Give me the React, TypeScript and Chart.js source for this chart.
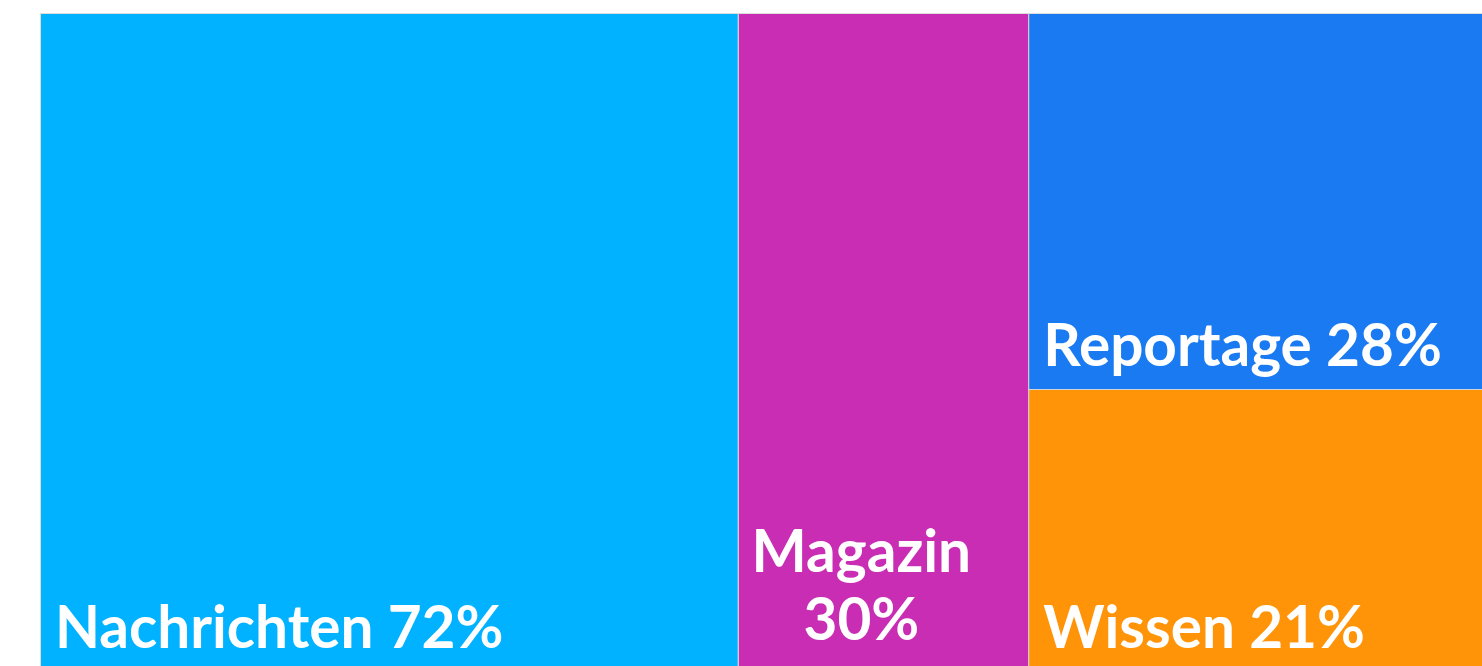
import React, { useEffect, useRef } from "react";
import { Chart, registerables } from "chart.js";

Chart.register(...registerables);

const categories = ["Nachrichten", "Magazin", "Reportage", "Wissen"];
const values = [72, 30, 28, 21];
const columnOf = [0, 1, 2, 2];
const colors = ["#00B2FF", "#C82DB4", "#1A7AF2", "#FF9408"];

const total = values.reduce((a, b) => a + b, 0);

type Rect = { x0: number; x1: number; y0: number; y1: number };

function layout(): Rect[] {
  const nCols = Math.max(...columnOf) + 1;
  const colSums = Array.from({ length: nCols }, (_, c) =>
    values.reduce((s, v, i) => (columnOf[i] === c ? s + v : s), 0)
  );
  const rects: Rect[] = [];
  let xStart = 0;
  const colY: number[] = new Array(nCols).fill(0);
  const colX: number[] = [];
  for (let c = 0; c < nCols; c++) {
    colX.push(xStart);
    xStart += colSums[c];
  }
  values.forEach((v, i) => {
    const c = columnOf[i];
    const y0 = colY[c];
    const y1 = y0 + v / colSums[c];
    colY[c] = y1;
    rects.push({ x0: colX[c], x1: colX[c] + colSums[c], y0, y1 });
  });
  return rects;
}

const treemapPlugin = {
  id: "treemapRects",
  beforeDatasetsDraw(chart: any) {
    const { ctx } = chart;
    const xs = chart.scales.x;
    const ys = chart.scales.y;
    const rects = layout();
    ctx.save();
    rects.forEach((r, i) => {
      const left = xs.getPixelForValue(r.x0);
      const right = xs.getPixelForValue(r.x1);
      const top = ys.getPixelForValue(r.y0);
      const bottom = ys.getPixelForValue(r.y1);
      ctx.fillStyle = colors[i];
      ctx.fillRect(left, top, right - left, bottom - top);
      ctx.strokeStyle = "rgba(215,215,215,0.85)";
      ctx.lineWidth = 1;
      ctx.strokeRect(Math.round(left) - 0.5, Math.round(top) - 0.5, right - left, bottom - top);
    });
    // labels
    ctx.font = "bold 58.5px Lato";
    ctx.fillStyle = "#FFFFFF";
    ctx.textBaseline = "alphabetic";
    const pad = 14;
    rects.forEach((r, i) => {
      const left = xs.getPixelForValue(r.x0);
      const right = xs.getPixelForValue(r.x1);
      const bottom = ys.getPixelForValue(r.y1);
      const text = `${categories[i]} ${values[i]}%`;
      const avail = right - left - 2 * pad;
      let lines: string[] = [text];
      if (ctx.measureText(text).width > avail) {
        lines = [];
        let cur = "";
        text.split(" ").forEach((w) => {
          const t = cur ? cur + " " + w : w;
          if (cur && ctx.measureText(t).width > avail) {
            lines.push(cur);
            cur = w;
          } else cur = t;
        });
        if (cur) lines.push(cur);
      }
      const lh = 68;
      const lastBase = bottom - 24 - (lines.length > 1 ? 8 : 0);
      const maxW = Math.max(...lines.map((l) => ctx.measureText(l).width));
      lines.forEach((l, k) => {
        const y = lastBase - (lines.length - 1 - k) * lh;
        if (lines.length > 1) {
          ctx.textAlign = "center";
          ctx.fillText(l, left + pad - 1 + maxW / 2, y);
        } else {
          ctx.textAlign = "left";
          ctx.fillText(l, left + pad, y);
        }
      });
    });
    ctx.restore();
  },
};

export default function App() {
  const ref = useRef<HTMLCanvasElement | null>(null);
  useEffect(() => {
    if (!ref.current) return;
    const rects = layout();
    const chart = new Chart(ref.current, {
      type: "scatter",
      data: {
        datasets: [
          {
            label: "Anteil",
            data: rects.map((r) => ({ x: (r.x0 + r.x1) / 2, y: (r.y0 + r.y1) / 2 })),
            pointRadius: 0,
            pointHoverRadius: 0,
          },
        ],
      },
      options: {
        responsive: false,
        animation: false,
        devicePixelRatio: 1,
        layout: { padding: { left: 41, top: 14, right: 6, bottom: 18 } },
        plugins: { legend: { display: false }, tooltip: { enabled: false } },
        scales: {
          x: { type: "linear", min: 0, max: total, display: false },
          y: { type: "linear", min: 0, max: 1, reverse: true, display: false },
        },
      },
      plugins: [treemapPlugin],
    });
    return () => chart.destroy();
  }, []);
  return (
    <div
      style={{
        position: "fixed",
        left: 0,
        top: 0,
        width: 1482,
        height: 666,
        overflow: "hidden",
        background: "#fff",
      }}
    >
      <canvas
        ref={ref}
        width={1510}
        height={690}
        style={{ position: "absolute", left: 0, top: 0, width: 1510, height: 690 }}
      />
    </div>
  );
}
